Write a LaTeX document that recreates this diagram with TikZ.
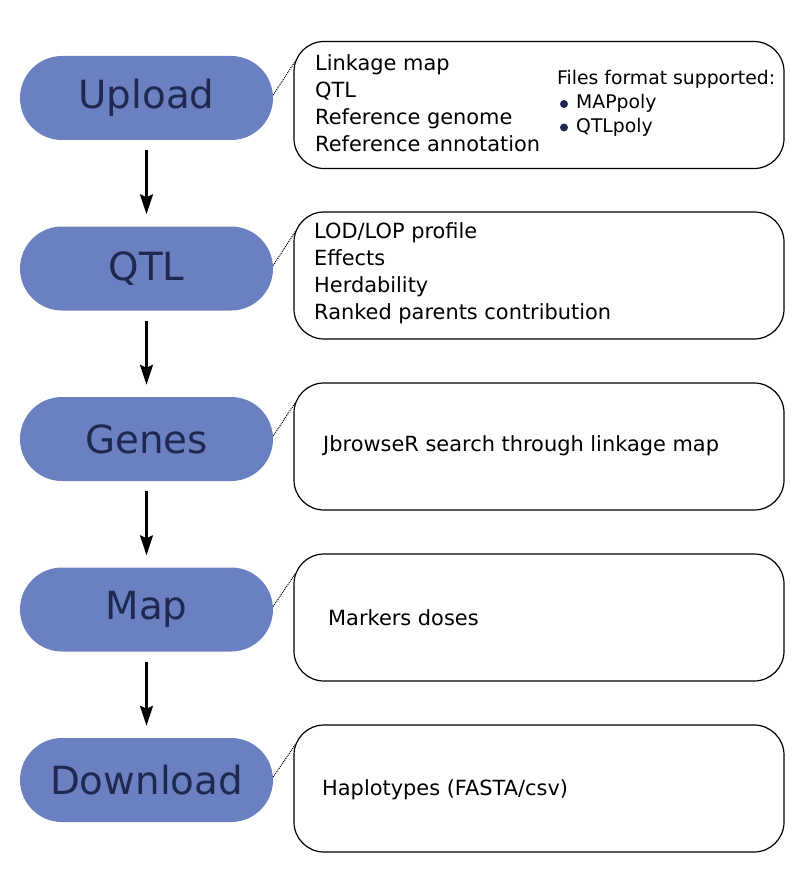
\documentclass[tikz,border=0pt]{standalone}
\usepackage{fontspec}
\setmainfont{DejaVu Sans}
\usetikzlibrary{arrows.meta,calc}
\definecolor{pillblue}{HTML}{6B80C0}
\definecolor{pillink}{HTML}{1F2850}

\begin{document}
\begin{tikzpicture}
  [x=1pt,y=-1pt,
   pill/.style={rectangle,rounded corners=42pt,fill=pillblue,text=pillink,
     minimum width=253pt,minimum height=84pt,inner sep=0pt,
     font=\fontsize{38.8}{46}\selectfont},
   infobox/.style={rectangle,draw,rounded corners=30pt,line width=1.2pt,
     minimum width=490pt,minimum height=127pt,inner sep=0pt},
   info/.style={anchor=west,inner sep=0pt,text height=15pt,text depth=5pt,
     font=\fontsize{20.9}{27}\selectfont},
   fmt/.style={anchor=west,inner sep=0pt,text height=13.5pt,text depth=4.5pt,
     font=\fontsize{18.8}{24}\selectfont},
   dot/.style={circle,fill=pillink,inner sep=0pt,minimum size=8pt},
   flow/.style={line width=2.4pt,-{Stealth[length=20pt,width=13pt,inset=3pt]},
     shorten <=10pt,shorten >=12pt},
   link/.style={densely dotted,line width=1pt}]
  \useasboundingbox (0,0) rectangle (804,869);

  % steps
  \node[pill] (upload) at (146.5,98) {Upload};
  \node[pill] (qtl) at (146.5,268.5) {QTL};
  \node[pill] (genes) at (146.5,439) {Genes};
  \node[pill] (map) at (146.5,609.5) {Map};
  \node[pill] (download) at (146.5,780) {Download};

  % boxes
  \node[infobox] (b1) at (539,105) {};
  \node[infobox] (b2) at (539,275.5) {};
  \node[infobox] (b3) at (539,446.5) {};
  \node[infobox] (b4) at (539,617.5) {};
  \node[infobox] (b5) at (539,788.5) {};

  % box texts
  \foreach \txt [count=\i] in {Linkage map, QTL, Reference genome, Reference annotation}
    \node[info] (t1-\i) at (315,66+26.7*\i-26.7) {\txt};
  \node[fmt] (f1) at (557,80.5) {Files format supported:};
  \node[dot] (d1) at (564,104) {};
  \node[fmt] (f2) at (576,104.5) {MAPpoly};
  \node[dot] (d2) at (564,127.5) {};
  \node[fmt] (f3) at (576,128) {QTLpoly};
  \foreach \txt [count=\i] in {LOD/LOP profile, Effects, Herdability, Ranked parents contribution}
    \node[info] (t2-\i) at (314,233.3+27.1*\i-27.1) {\txt};
  \node[info] (t3) at (323,446) {JbrowseR search through linkage map};
  \node[info] (t4) at (328,620) {Markers doses};
  \node[info] (t5) at (322,790) {Haplotypes (FASTA/csv)};

  \foreach \b in {b1,b2,b3,b4,b5}
    \coordinate (\b-c) at ($(\b.north west)+(2,20)$);

  \foreach \from/\to in {upload/qtl, qtl/genes, genes/map, map/download}
    \draw [flow] (\from) -- (\to);

  \foreach \from/\to in {upload/b1, qtl/b2, genes/b3, map/b4, download/b5}
    \draw [link] ($(\from.east)+(0,-3)$) -- (\to-c);

\end{tikzpicture}
\end{document}
